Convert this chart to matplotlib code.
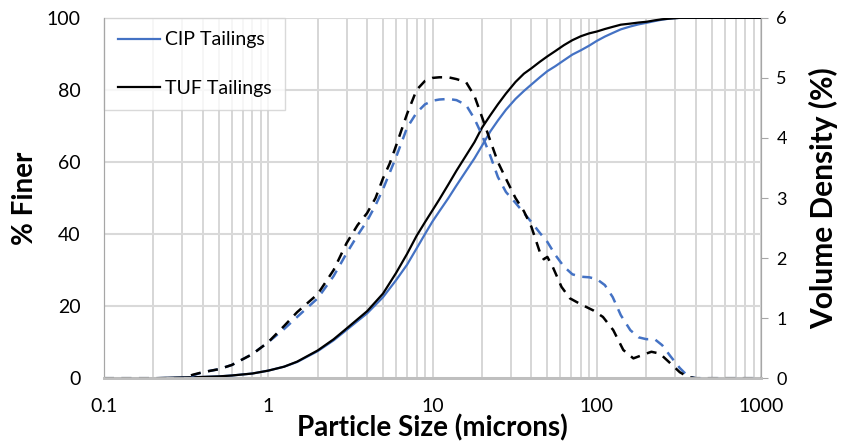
import numpy as np
import matplotlib
matplotlib.use("Agg")
import matplotlib.pyplot as plt
from matplotlib.ticker import LogLocator, FixedLocator, NullFormatter, FuncFormatter

plt.rcParams['font.family'] = ['Lato', 'DejaVu Sans']

# Particle sizes (microns)
size_cum = [0.1, 0.2, 0.3, 0.35, 0.4, 0.5, 0.6, 0.8, 1, 1.25, 1.5, 2, 2.5, 3, 4, 5, 6, 7, 8, 9,
            10, 11, 12.5, 14, 16, 18, 20, 22.5, 25, 28, 32, 36, 40, 45, 50, 56, 63, 71, 80, 90,
            100, 112, 125, 140, 160, 180, 200, 225, 250, 280, 320, 400, 500, 600, 800, 1000]

# % finer (cumulative)
tuf_cum = [0, 0, 0.2, 0.25, 0.35, 0.5, 0.75, 1.3, 2.1, 3.2, 4.6, 7.7, 10.8, 13.8, 18.6, 23.5, 29.2, 34.5, 39.5, 43.3,
           46.6, 49.6, 53.8, 57.6, 61.8, 65.5, 69.5, 73, 76, 79, 82.2, 84.5, 86, 87.8, 89.3, 90.8, 92.4, 93.8, 94.9, 95.7,
           96.2, 96.9, 97.5, 98.1, 98.4, 98.7, 98.9, 99.3, 99.6, 99.8, 100, 100, 100, 100, 100, 100]
cip_cum = [0, 0, 0.2, 0.25, 0.35, 0.5, 0.75, 1.3, 2.1, 3.2, 4.5, 7.5, 10.5, 13.4, 18.0, 22.5, 27.2, 31.5, 36, 40,
           43.5, 46.3, 50, 53.5, 57.5, 61, 64.5, 68.5, 71.5, 74.5, 77.5, 79.7, 81.5, 83.5, 85.2, 86.6, 88.2, 89.8, 91, 92.3,
           93.6, 94.8, 95.8, 96.8, 97.6, 98.2, 98.6, 99.1, 99.5, 99.8, 100, 100, 100, 100, 100, 100]

# Volume density (%)
size_tuf_den = [0.1, 0.2, 0.3, 0.35, 0.4, 0.5, 0.6, 0.8, 1, 1.25, 1.5, 2, 2.5, 3, 3.5, 4, 4.5, 5, 5.5, 6, 7, 8, 9,
                10, 11, 12.5, 14, 16, 18, 20, 22.5, 25, 28, 32, 36, 40, 45, 47.5, 50, 54, 61, 68.6, 80, 95,
                109, 126, 145, 167, 200, 215, 242, 280, 320, 360, 400, 500, 600, 800, 1000]
tuf_den = [0, 0, 0, 0.06, 0.1, 0.15, 0.22, 0.4, 0.6, 0.87, 1.1, 1.4, 1.8, 2.25, 2.55, 2.75, 3.0, 3.33, 3.58, 3.87, 4.4, 4.8, 4.95,
           5.0, 5.01, 5.01, 4.98, 4.93, 4.7, 4.35, 3.95, 3.6, 3.32, 3.0, 2.78, 2.52, 2.1, 1.98, 2.02, 1.85, 1.52, 1.33, 1.23, 1.13,
           1.02, 0.8, 0.47, 0.33, 0.41, 0.44, 0.41, 0.25, 0.1, 0.02, 0, 0, 0, 0, 0]

size_cip_den = [0.1, 0.2, 0.3, 0.35, 0.4, 0.5, 0.6, 0.8, 1, 1.25, 1.5, 2, 2.5, 3, 3.5, 4, 4.5, 5, 6, 7, 8, 9,
                10, 11, 12.5, 14, 16, 18, 20, 22.5, 25, 28, 32, 36, 40, 45, 50, 56, 63, 71, 80, 90,
                100, 112, 125, 140, 160, 180, 200, 225, 250, 280, 320, 360, 400, 500, 600, 800, 1000]
cip_den = [0, 0, 0, 0.05, 0.1, 0.15, 0.22, 0.4, 0.6, 0.82, 1.02, 1.33, 1.7, 2.08, 2.38, 2.62, 2.88, 3.15, 3.68, 4.17, 4.42, 4.56,
           4.62, 4.64, 4.65, 4.63, 4.55, 4.32, 4.05, 3.7, 3.35, 3.1, 2.92, 2.75, 2.6, 2.42, 2.27, 2.05, 1.86, 1.73, 1.69, 1.68,
           1.65, 1.55, 1.35, 1.05, 0.8, 0.68, 0.65, 0.65, 0.55, 0.37, 0.17, 0.03, 0, 0, 0, 0, 0]

x_ticks = [0.1, 1, 10, 100, 1000]
x_tick_labels = ["0.1", "1", "10", "100", "1000"]
y_ticks = [0, 20, 40, 60, 80, 100]
y2_ticks = [0, 1, 2, 3, 4, 5, 6]

BLUE = "#4472C4"
GRID = "#d0d0d0"
SPINE = "#a6a6a6"

fig = plt.figure(figsize=(8.59, 4.46), dpi=100)
ax = fig.add_axes([0.121, 0.152, 0.765, 0.808])
ax2 = ax.twinx()

ax.set_xscale("log")
ax.set_xlim(0.1, 1000)
ax.set_ylim(0, 100)
ax2.set_ylim(0, 6)

ax.xaxis.set_major_locator(FixedLocator(x_ticks))
ax.xaxis.set_major_formatter(FuncFormatter(lambda v, p: x_tick_labels[x_ticks.index(v)] if v in x_ticks else ""))
ax.xaxis.set_minor_locator(LogLocator(base=10, subs=np.arange(2, 10), numticks=20))
ax.xaxis.set_minor_formatter(NullFormatter())
ax.set_yticks(y_ticks)
ax2.set_yticks(y2_ticks)

ax.grid(True, which="both", axis="x", color=GRID, lw=1.2)
ax.grid(True, which="major", axis="y", color="#d9d9d9", lw=1.5)
ax.set_axisbelow(True)

ax.tick_params(axis="both", which="both", length=0, labelsize=14)
ax.tick_params(axis="y", pad=17)
ax.tick_params(axis="x", pad=14)
ax2.tick_params(axis="y", length=5, color=SPINE, labelsize=13, pad=6, direction="out")

for a in (ax, ax2):
    a.spines["top"].set_visible(False)
    a.spines["left"].set_color(SPINE)
    a.spines["right"].set_color(SPINE)
    a.spines["bottom"].set_color("#bfbfbf")
    a.spines["bottom"].set_linewidth(2)

l1, = ax.plot(size_cum, cip_cum, color=BLUE, lw=1.6, label="CIP Tailings")
l2, = ax.plot(size_cum, tuf_cum, color="black", lw=1.6, label="TUF Tailings")
ax2.plot(size_cip_den, cip_den, color=BLUE, lw=1.8, ls=(0, (4, 3)))
ax2.plot(size_tuf_den, tuf_den, color="black", lw=1.8, ls=(0, (4, 3)))

leg = ax.legend(handles=[l1, l2], loc="upper left", bbox_to_anchor=(0, 1), borderaxespad=0,
                fontsize=14, frameon=True, fancybox=False, edgecolor="#d0d0d0",
                labelspacing=1.6, handlelength=2.2, handletextpad=0.25, borderpad=0.7)
leg.get_frame().set_linewidth(1.0)
leg.set_zorder(5)

ax.set_xlabel("Particle Size (microns)", fontsize=20, fontweight="bold", labelpad=0)
ax.set_ylabel("% Finer", fontsize=20, fontweight="bold", labelpad=6)
ax2.set_ylabel("Volume Density (%)", fontsize=21.5, fontweight="bold", labelpad=16)

fig.savefig("out.png", dpi=100)
